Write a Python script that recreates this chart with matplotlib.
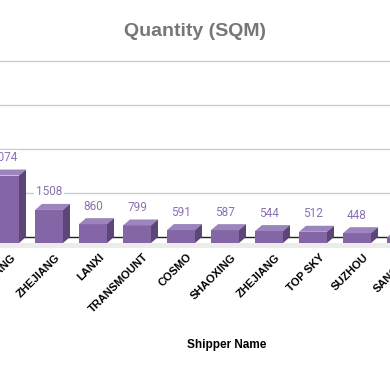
import matplotlib
matplotlib.use("Agg")
import matplotlib.pyplot as plt
from matplotlib.patches import Polygon, Rectangle
from matplotlib.transforms import ScaledTranslation, offset_copy, blended_transform_factory

categories = ["ZHEJIANG", "ZHEJIANG", "LANXI", "TRANSMOUNT", "COSMO",
              "SHAOXING", "ZHEJIANG", "TOP SKY", "SUZHOU", "SANGAM"]
values = [3074, 1508, 860, 799, 591, 587, 544, 512, 448, 260]
grid_values = [2000, 4000, 6000, 8000]

W, H = 390, 371
fig = plt.figure(figsize=(W / 100, H / 100), dpi=100)

k = 0.02195            # px per unit
ymin, ymax = -500, 8050
px_bottom = 248
ax_h = (ymax - ymin) * k
ax = fig.add_axes([0, (H - px_bottom) / H, 1, ax_h / H])

step = 44.0
x0px = 5.0
xlim = (-x0px / step, (W - x0px) / step)

front_color = "#8466a6"
top_color = "#9c85bc"
side_color = "#5b4677"
label_color = "#8a72b2"

for g in grid_values:
    ax.axhline(g, color="#cccccc", lw=1.0, zorder=0)

# floor
floor_front = -273
ax.add_patch(Rectangle((xlim[0], ymin), xlim[1] - xlim[0], floor_front - ymin,
                       facecolor="#ececec", edgecolor="none", zorder=1))
ax.axhline(0, color="#222222", lw=1.0, zorder=1)

bw = 28 / step
dx = 7 / step
dy = -floor_front

tick_tr = blended_transform_factory(ax.transData, ax.transAxes) + \
    ScaledTranslation(6 / 100, -4 / 100, fig.dpi_scale_trans)

for i, (c, v) in enumerate(zip(categories, values)):
    xl, xr = i - bw / 2, i + bw / 2
    ftop = floor_front + v
    ax.bar(i, v, width=bw, bottom=floor_front, color=front_color,
           edgecolor="none", zorder=3)
    ax.add_patch(Polygon([(xl, ftop), (xr, ftop), (xr + dx, ftop + dy), (xl + dx, ftop + dy)],
                         closed=True, facecolor=top_color, edgecolor="none", zorder=3))
    ax.add_patch(Polygon([(xr, floor_front), (xr + dx, floor_front + dy), (xr + dx, ftop + dy), (xr, ftop)],
                         closed=True, facecolor=side_color, edgecolor="none", zorder=3))
    t = offset_copy(ax.transData, fig=fig, x=0, y=8.5 * 0.72, units="points")
    ax.text(i, v, f"{v}", transform=t, ha="center", va="baseline",
            fontsize=8.5, family="Roboto", color=label_color, zorder=4,
            bbox=dict(facecolor="white", edgecolor="none", pad=1.0))
    ax.text(i, 0, c, transform=tick_tr, rotation=45, ha="right", va="top",
            rotation_mode="anchor", fontsize=8, fontweight="bold",
            family="Liberation Sans", color="black", clip_on=False)

ax.set_xticks([])
ax.set_yticks([])
ax.set_xlim(*xlim)
ax.set_ylim(ymin, ymax)
for s in ax.spines.values():
    s.set_visible(False)

fig.text(195 / W, 1 - 32 / H, "Quantity (SQM)", ha="center", va="center",
         fontsize=14, fontweight="bold", family="Liberation Sans", color="#767676")
fig.text(227 / W, 1 - 345 / H, "Shipper Name", ha="center", va="center",
         fontsize=8.5, fontweight="bold", family="Liberation Sans", color="black")

fig.savefig("out.png", dpi=100)
